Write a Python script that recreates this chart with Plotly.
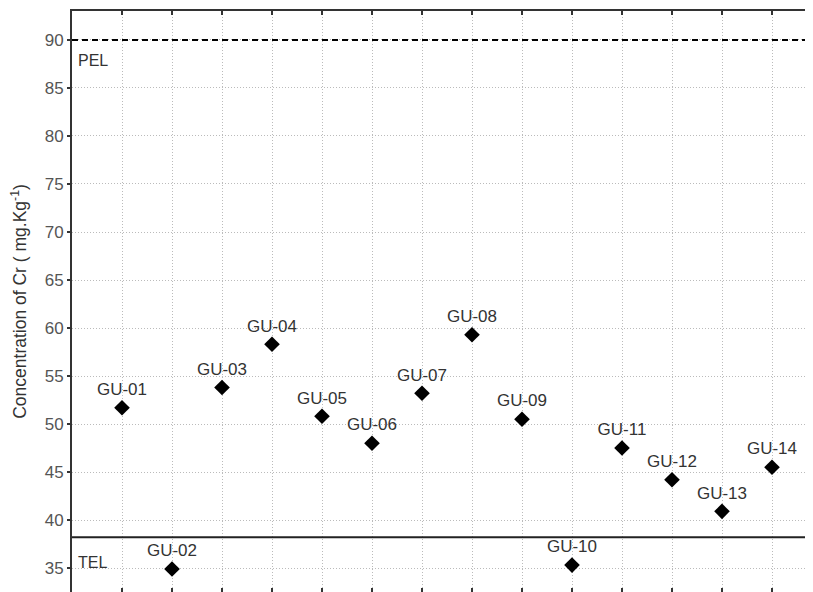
import plotly.graph_objects as go

sites = ["GU-01", "GU-02", "GU-03", "GU-04", "GU-05", "GU-06", "GU-07",
         "GU-08", "GU-09", "GU-10", "GU-11", "GU-12", "GU-13", "GU-14"]
site_pos = list(range(1, 15))
cr_values = [51.7, 34.9, 53.8, 58.3, 50.8, 48.0, 53.2, 59.3, 50.5, 35.3, 47.5, 44.2, 40.9, 45.5]
pel_value = 90.0
tel_value = 38.2
y_ticks = [35, 40, 45, 50, 55, 60, 65, 70, 75, 80, 85, 90]

FONT = "Arial, Liberation Sans"

fig = go.Figure()

fig.add_trace(go.Scatter(
    x=site_pos, y=cr_values, mode="markers+text",
    text=sites, textposition="top center",
    textfont=dict(family=FONT, size=17, color="#333333"),
    marker=dict(symbol="diamond", size=12, color="black"),
    showlegend=False, cliponaxis=False,
))

# guideline PEL (dashed) and TEL (solid)
fig.add_trace(go.Scatter(
    x=[0, 15], y=[pel_value, pel_value], mode="lines",
    line=dict(color="black", width=1.8, dash="6px,4px"), showlegend=False, hoverinfo="skip"))
fig.add_trace(go.Scatter(
    x=[0, 15], y=[tel_value, tel_value], mode="lines",
    line=dict(color="#222222", width=2), showlegend=False, hoverinfo="skip"))

fig.add_annotation(x=0.08, y=87.9, text="PEL", showarrow=False, xanchor="left",
                   font=dict(family=FONT, size=16, color="#333333"))
fig.add_annotation(x=0.08, y=35.6, text="TEL", showarrow=False, xanchor="left",
                   font=dict(family=FONT, size=16, color="#333333"))

# invisible trace for top axis
fig.add_trace(go.Scatter(x=[1], y=[50], xaxis="x2", mode="markers",
                         marker=dict(opacity=0), showlegend=False, hoverinfo="skip"))

fig.update_layout(
    width=813, height=592,
    margin=dict(l=64, r=8, t=3, b=8),
    plot_bgcolor="white", paper_bgcolor="white",
    xaxis=dict(range=[0, 14.82], tickmode="array", tickvals=site_pos, showticklabels=False,
               ticks="inside", ticklen=4, tickwidth=2, tickcolor="#333333",
               showgrid=True, gridcolor="#bbbbbb", griddash="1px,2px", gridwidth=1,
               showline=False, zeroline=False, automargin=False),
    xaxis2=dict(range=[0, 14.82], overlaying="x", side="top", tickmode="array",
                tickvals=site_pos, showticklabels=False, ticks="inside", ticklen=4,
                tickwidth=2, tickcolor="#333333", showline=True, linecolor="#333333",
                linewidth=2, showgrid=False, zeroline=False, automargin=False),
    yaxis=dict(range=[32.5, 93.02], tickmode="array", tickvals=y_ticks,
               ticks="outside", ticklen=3, tickwidth=1.5, tickcolor="#333333",
               showline=True, linecolor="#333333", linewidth=2,
               showgrid=True, gridcolor="#bbbbbb", griddash="1px,2px", gridwidth=1,
               zeroline=False, automargin=False,
               tickfont=dict(family=FONT, size=17, color="#555555"),
               title=dict(text="Concentration of Cr ( mg.Kg<sup>-1</sup>)",
                          font=dict(family=FONT, size=17.5, color="#333333"),
                          standoff=14)),
)

fig.write_html("out.html")
